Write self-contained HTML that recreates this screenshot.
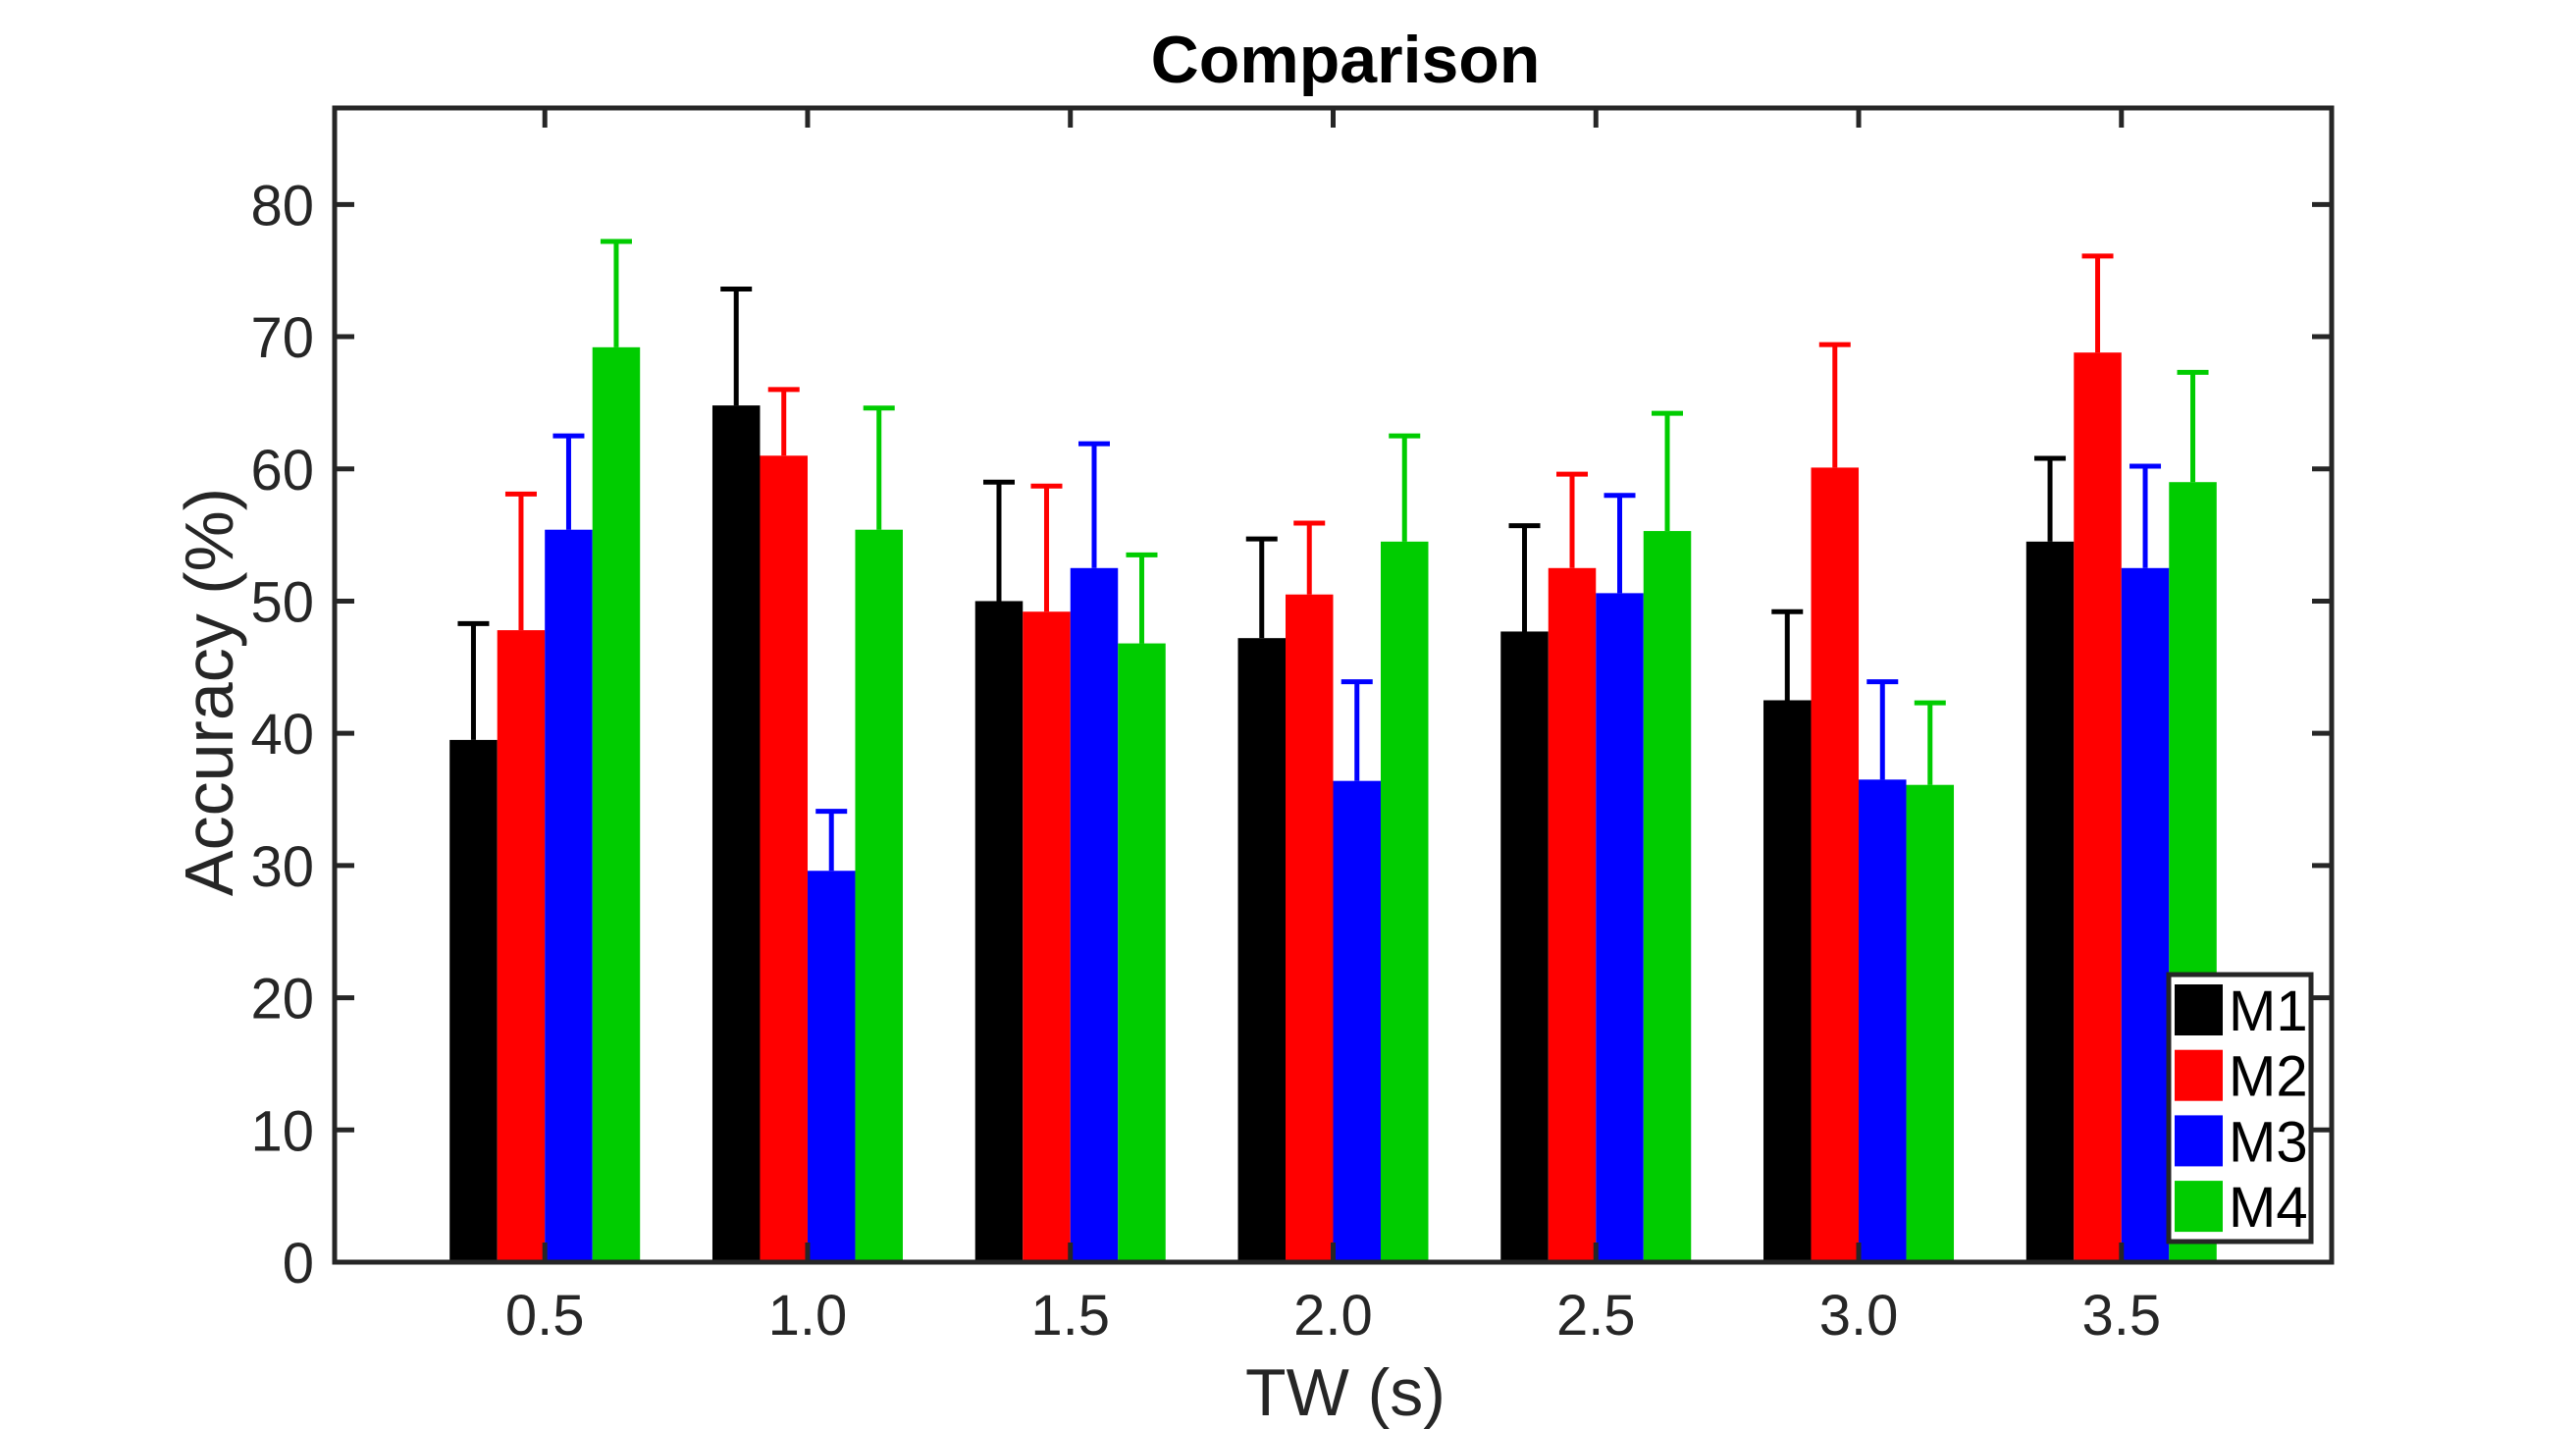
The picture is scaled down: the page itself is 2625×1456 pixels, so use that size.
<!DOCTYPE html>
<html><head><meta charset="utf-8"><style>
html,body{margin:0;padding:0;background:#fff;}
svg{display:block;font-family:"Liberation Sans",Arial,sans-serif;}
</style></head><body>
<svg id="chart" width="2625" height="1456" viewBox="0 0 2625 1456" xmlns="http://www.w3.org/2000/svg">
<g id="bars"></g>
<g id="axes"></g>
</svg>
<script>
const categories = ["0.5","1.0","1.5","2.0","2.5","3.0","3.5"];
const seriesNames = ["M1","M2","M3","M4"];
const seriesColors = ["#000000","#ff0000","#0000ff","#00cc00"];
const m1 = [39.5, 64.8, 50.0, 47.2, 47.7, 42.5, 54.5];
const m2 = [47.8, 61.0, 49.2, 50.5, 52.5, 60.1, 68.8];
const m3 = [55.4, 29.6, 52.5, 36.4, 50.6, 36.5, 52.5];
const m4 = [69.2, 55.4, 46.8, 54.5, 55.3, 36.1, 59.0];
const m1Err = [8.8, 8.8, 9.0, 7.5, 8.0, 6.7, 6.3];
const m2Err = [10.3, 5.0, 9.5, 5.4, 7.1, 9.3, 7.3];
const m3Err = [7.1, 4.5, 9.4, 7.5, 7.4, 7.4, 7.7];
const m4Err = [8.0, 9.2, 6.7, 8.0, 8.9, 6.2, 8.3];
const yTicks = [0,10,20,30,40,50,60,70,80];

const NS="http://www.w3.org/2000/svg";
const L=341,R=2376,T=110,B=1286;
const xMin=0.1,xMax=3.9,yMin=0,yMax=87.3;
const xs=v=>L+(v-xMin)/(xMax-xMin)*(R-L);
const ys=v=>B-(v-yMin)/(yMax-yMin)*(B-T);
const xOf=i=>xs(parseFloat(categories[i]));
const bw=48.5;
function mk(tag,attrs,parent){const e=document.createElementNS(NS,tag);for(const k in attrs)e.setAttribute(k,attrs[k]);parent.appendChild(e);return e;}
const bars=document.getElementById('bars'),axes=document.getElementById('axes');
const vals=[m1,m2,m3,m4],errs=[m1Err,m2Err,m3Err,m4Err];
vals.forEach((s,si)=>{
  s.forEach((v,i)=>{
    const cx=xOf(i)+(si-1.5)*bw;
    const r=mk('rect',{x:cx-bw/2,y:ys(v),width:bw,height:ys(0)-ys(v),fill:seriesColors[si]},bars);
    
    
    const top=ys(v+errs[si][i]);
    const g=mk('g',{stroke:seriesColors[si],'stroke-width':5},bars);
    
    
    mk('line',{x1:cx,x2:cx,y1:ys(v),y2:top},g);
    mk('line',{x1:cx-16,x2:cx+16,y1:top,y2:top},g);
  });
});
const box=mk('rect',{x:L,y:T,width:R-L,height:B-T,fill:'none',stroke:'#262626','stroke-width':5},axes);


yTicks.forEach(t=>{
  const y=ys(t);
  mk('line',{x1:L,x2:L+20,y1:y,y2:y,stroke:'#262626','stroke-width':5},axes);
  mk('line',{x1:R,x2:R-20,y1:y,y2:y,stroke:'#262626','stroke-width':5},axes);
  const tx=mk('text',{x:320,y:y+21,'text-anchor':'end','font-size':58,fill:'#262626'},axes);
  tx.textContent=t;
  
  
});
categories.forEach((c,i)=>{
  const x=xOf(i);
  mk('line',{x1:x,x2:x,y1:B,y2:B-20,stroke:'#262626','stroke-width':5},axes);
  mk('line',{x1:x,x2:x,y1:T,y2:T+20,stroke:'#262626','stroke-width':5},axes);
  const tx=mk('text',{x:x,y:1360,'text-anchor':'middle','font-size':58,fill:'#262626'},axes);
  tx.textContent=c;
  
  
});
const title=mk('text',{x:1371,y:84,'text-anchor':'middle','font-size':68,'font-weight':'bold',fill:'#000'},axes);
title.textContent='Comparison';


const xl=mk('text',{x:1371,y:1442,'text-anchor':'middle','font-size':68,fill:'#262626'},axes);
xl.textContent='TW (s)';


const yl=mk('text',{x:0,y:0,'text-anchor':'middle','font-size':70,fill:'#262626',transform:'translate(237,705) rotate(-90)'},axes);
yl.textContent='Accuracy (%)';


const lg=mk('g',{},axes);


mk('rect',{x:2210,y:993,width:145,height:272,fill:'#fff',stroke:'#262626','stroke-width':5},lg);
seriesNames.forEach((n,i)=>{
  const cy=1029+i*66.7;
  const e=mk('g',{},lg);
  
  
  mk('rect',{x:2216,y:cy-26,width:49,height:52,fill:seriesColors[i]},e);
  const t=mk('text',{x:2271,y:cy+21,'font-size':58,fill:'#000'},e);
  t.textContent=n;
});
</script>
</body></html>
